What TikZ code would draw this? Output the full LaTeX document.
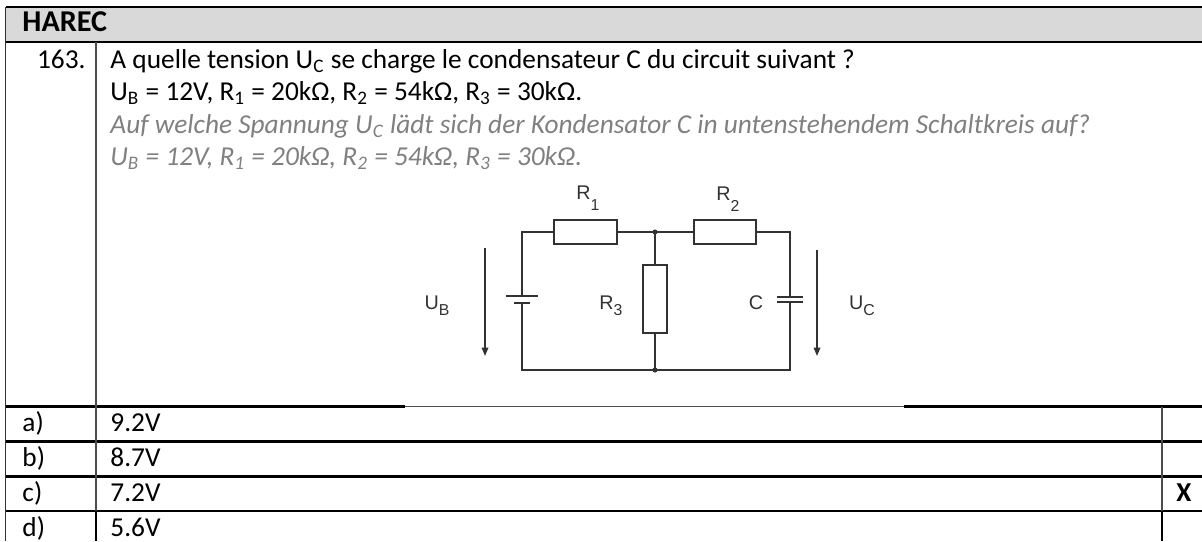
\documentclass[tikz,border=0pt]{standalone}
\usepackage{fontspec}
\setmainfont{Carlito}
\newfontfamily\circfont{Liberation Sans}
\usetikzlibrary{arrows.meta}

\definecolor{hdrgray}{RGB}{217,217,217}
\definecolor{detext}{RGB}{128,128,128}
\definecolor{wire}{RGB}{50,50,50}

\newcommand{\csub}[2][-0.6ex]{\raisebox{#1}{\fontsize{6.8}{7}\selectfont #2}}

\tikzset{
  txt/.style={anchor=base west, inner sep=0pt, font=\fontsize{11.75}{14}\selectfont},
  detxt/.style={txt, text=detext, font=\fontsize{11.75}{14}\selectfont\itshape},
  resbox/.style={draw=wire, line width=0.9pt, fill=white, rectangle, inner sep=0pt,
    minimum width=27pt, minimum height=10.5pt},
  clabel/.style={font=\circfont\fontsize{8.5}{9}\selectfont, text=wire, inner sep=0pt},
  wires/.style={draw=wire, line width=0.7pt},
  plate/.style={draw=wire, line width=1pt},
  uarrow/.style={wires, -{Triangle[length=3.6pt,width=2.8pt]}},
  thickrule/.style={line width=0.9pt},
  thinrule/.style={line width=0.5pt, draw=black!70},
}

\begin{document}
\begin{tikzpicture}[x=0.43pt,y=-0.43pt]
\useasboundingbox (0,0) rectangle (1202,541);

% header band
\fill[hdrgray] (5.5,7) rectangle (1202,42);
\node[txt, font=\fontsize{13}{15}\selectfont\bfseries] (hdr) at (22,31.5) {HAREC};

% question, french and german
\node[txt, anchor=base east] (qnum) at (86,68) {163.};
\node[txt] (fr1) at (110,68) {A quelle tension U\textsubscript{C} se charge le condensateur C du circuit suivant ?};
\node[txt] (fr2) at (110,100.5) {U\textsubscript{B} = 12V, R\textsubscript{1} = 20kΩ, R\textsubscript{2} = 54kΩ, R\textsubscript{3} = 30kΩ.};
\node[detxt] (de1) at (110,133) {Auf welche Spannung U\textsubscript{C} lädt sich der Kondensator C in untenstehendem Schaltkreis auf?};
\node[detxt] (de2) at (110,165.5) {U\textsubscript{B} = 12V, R\textsubscript{1} = 20kΩ, R\textsubscript{2} = 54kΩ, R\textsubscript{3} = 30kΩ.};

% circuit corners
\coordinate (tl) at (522,232);
\coordinate (j1) at (655,232);
\coordinate (tr) at (790,232);
\coordinate (bl) at (522,370);
\coordinate (j2) at (655,370);
\coordinate (br) at (790,370);
\coordinate (batp) at (522,296);
\coordinate (batn) at (522,303);
\coordinate (capt) at (790,297);
\coordinate (capb) at (790,302);

% resistors
\node[resbox] (r1) at (585.5,232) {};
\node[resbox] (r2) at (725,232) {};
\node[resbox, minimum width=10.3pt, minimum height=29.2pt] (r3) at (655,299) {};

% wires
\draw[wires] (batp) -- (tl) -- (r1.west);
\draw[wires] (r1.east) -- (j1) -- (r2.west);
\draw[wires] (r2.east) -- (tr) -- (capt);
\draw[wires] (capb) -- (br) -- (j2) -- (bl) -- (batn);
\draw[wires] (j1) -- (r3.north);
\draw[wires] (r3.south) -- (j2);
\fill[wire] (j1) circle (1.1pt);
\fill[wire] (j2) circle (1.1pt);

% battery and capacitor plates
\draw[plate] ([xshift=-6.9pt]batp) -- ([xshift=6.9pt]batp);
\draw[plate] ([xshift=-3.4pt]batn) -- ([xshift=3.4pt]batn);
\draw[plate] ([xshift=-5.6pt]capt) -- ([xshift=5.6pt]capt);
\draw[plate] ([xshift=-5.6pt]capb) -- ([xshift=5.6pt]capb);

% voltage arrows
\coordinate (ubtop) at (485,248);
\coordinate (ubbot) at (485,356);
\coordinate (uctop) at (817,250);
\coordinate (ucbot) at (817,356);
\draw[uarrow] (ubtop) -- (ubbot);
\draw[uarrow] (uctop) -- (ucbot);

% circuit labels
\node[clabel] (lr1) at (588,198) {R\csub[-1.1ex]{1}};
\node[clabel] (lr2) at (728,199) {R\csub[-1.1ex]{2}};
\node[clabel] (lr3) at (611,306) {R\csub{3}};
\node[clabel] (lc) at (756,303) {C};
\node[clabel] (lub) at (437,306) {U\csub{B}};
\node[clabel] (luc) at (862,306) {U\csub{C}};

% answers
\foreach \lt/\val/\yb [count=\i] in {a)/9.2V/431, b)/8.7V/466, c)/7.2V/501, d)/5.6V/536}{
  \node[txt] (lab\i) at (22,\yb) {\lt};
  \node[txt] (ans\i) at (110,\yb) {\val};
}
\node[txt, anchor=base, font=\fontsize{11.75}{14}\selectfont\bfseries] (mark) at (1184,501) {X};

% table rules
\draw[thickrule] (5.5,7) -- (1202,7);
\draw[thickrule] (5.5,42) -- (1202,42);
\draw[thickrule] (5.5,406.5) -- (405,406.5);
\draw[thinrule] (405,406.5) -- (904,406.5);
\draw[thickrule] (904,406.5) -- (1202,406.5);
\foreach \y in {441.5,476.5,511}
  \draw[thickrule] (5.5,\y) -- (1202,\y);
\draw[line width=0.7pt, black!80] (5.5,7) -- (5.5,541);
\draw[thinrule] (96,42) -- (96,511);
\draw[thickrule] (96,511) -- (96,541);
\draw[thinrule] (1162,406.5) -- (1162,511);
\draw[thickrule] (1162,511) -- (1162,541);
\end{tikzpicture}
\end{document}
